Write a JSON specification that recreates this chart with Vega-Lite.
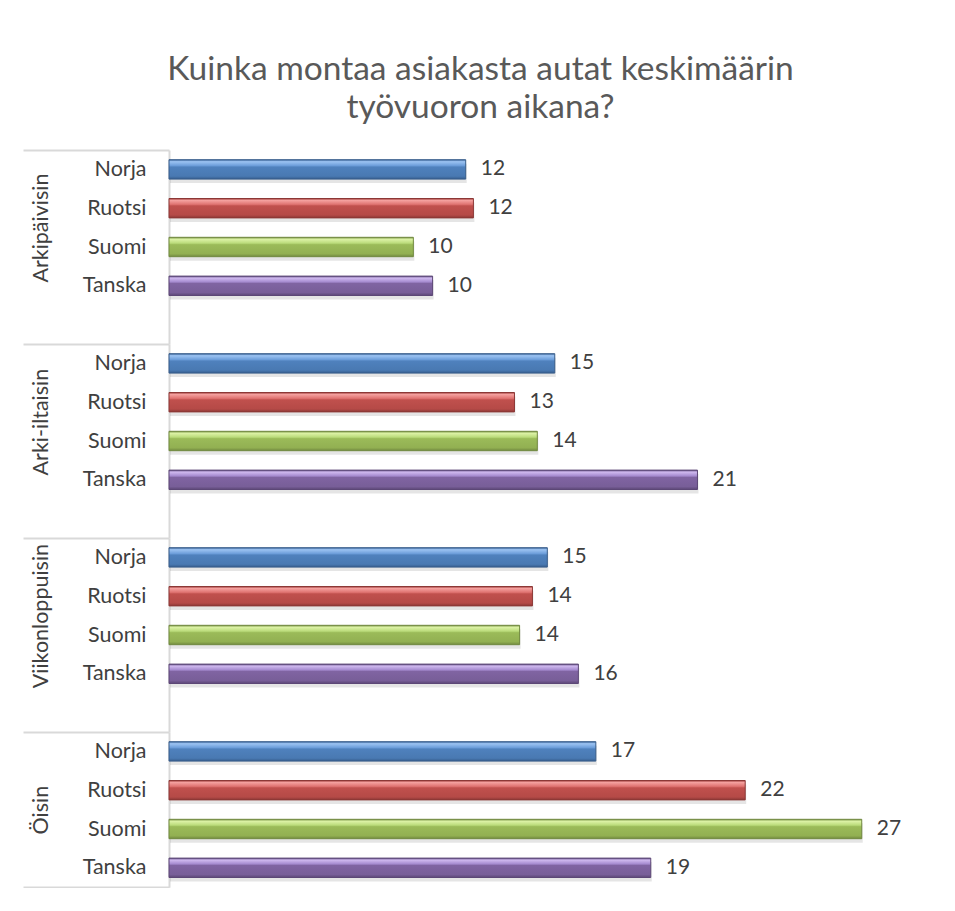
{
  "$schema": "https://vega.github.io/schema/vega-lite/v6.json",
  "padding": {"left": 22, "top": 52, "right": 0, "bottom": 0},
  "background": "white",
  "title": {
    "text": ["Kuinka montaa asiakasta autat keskimäärin", "työvuoron aikana?"],
    "font": "Lato", "fontSize": 33.5, "fontWeight": "normal", "color": "#595959",
    "lineHeight": 38, "anchor": "middle", "offset": 14
  },
  "data": {
    "values": [
      {"aika": "Arkipäivisin", "maa": "Norja", "arvo": 11.56},
      {"aika": "Arkipäivisin", "maa": "Ruotsi", "arvo": 11.86},
      {"aika": "Arkipäivisin", "maa": "Suomi", "arvo": 9.52},
      {"aika": "Arkipäivisin", "maa": "Tanska", "arvo": 10.27},
      {"aika": "Arki-iltaisin", "maa": "Norja", "arvo": 15.03},
      {"aika": "Arki-iltaisin", "maa": "Ruotsi", "arvo": 13.46},
      {"aika": "Arki-iltaisin", "maa": "Suomi", "arvo": 14.35},
      {"aika": "Arki-iltaisin", "maa": "Tanska", "arvo": 20.59},
      {"aika": "Viikonloppuisin", "maa": "Norja", "arvo": 14.74},
      {"aika": "Viikonloppuisin", "maa": "Ruotsi", "arvo": 14.16},
      {"aika": "Viikonloppuisin", "maa": "Suomi", "arvo": 13.66},
      {"aika": "Viikonloppuisin", "maa": "Tanska", "arvo": 15.95},
      {"aika": "Öisin", "maa": "Norja", "arvo": 16.63},
      {"aika": "Öisin", "maa": "Ruotsi", "arvo": 22.45},
      {"aika": "Öisin", "maa": "Suomi", "arvo": 26.99},
      {"aika": "Öisin", "maa": "Tanska", "arvo": 18.77}
    ]
  },
  "spacing": 0,
  "bounds": "flush",
  "vconcat": [
    {
      "width": 770, "height": 194,
      "transform": [{"filter": "datum.aika === 'Arkipäivisin'"}],
      "encoding": {
        "y": {"field": "maa", "type": "nominal", "sort": ["Norja", "Ruotsi", "Suomi", "Tanska"],
          "scale": {"paddingInner": 0, "paddingOuter": 0.5, "align": 0},
          "axis": {"title": "Arkipäivisin", "titleX": -128, "titleY": 77.6,
            "tickOpacity": {"condition": {"test": "datum.extra", "value": 1}, "value": 0}}},
        "x": {"field": "arvo", "type": "quantitative", "scale": {"domain": [0, 30], "nice": false}, "axis": null}
      },
      "layer": [
        {"mark": {"type": "bar", "height": {"band": 0.5}, "yOffset": 4, "xOffset": 1, "fill": "#000000", "opacity": 0.1}},
        {"mark": {"type": "bar", "height": {"band": 0.5}, "strokeWidth": 1},
          "encoding": {
            "fill": {"condition": [
              {"test": "datum.maa === 'Norja'", "value": {"gradient": "linear", "x1": 0, "y1": 0, "x2": 0, "y2": 1, "stops": [{"offset": 0, "color": "#3c679b"}, {"offset": 0.1, "color": "#9cc3f2"}, {"offset": 0.3, "color": "#6e9fdb"}, {"offset": 0.38, "color": "#4f81bd"}, {"offset": 0.85, "color": "#4979b2"}, {"offset": 1, "color": "#375e8e"}]}},
              {"test": "datum.maa === 'Ruotsi'", "value": {"gradient": "linear", "x1": 0, "y1": 0, "x2": 0, "y2": 1, "stops": [{"offset": 0, "color": "#9c3b39"}, {"offset": 0.1, "color": "#f4a09e"}, {"offset": 0.3, "color": "#e07472"}, {"offset": 0.38, "color": "#c0504d"}, {"offset": 0.85, "color": "#b54a47"}, {"offset": 1, "color": "#8c3836"}]}},
              {"test": "datum.maa === 'Suomi'", "value": {"gradient": "linear", "x1": 0, "y1": 0, "x2": 0, "y2": 1, "stops": [{"offset": 0, "color": "#769141"}, {"offset": 0.1, "color": "#dcf2a6"}, {"offset": 0.3, "color": "#bbdc7b"}, {"offset": 0.38, "color": "#9bbb59"}, {"offset": 0.85, "color": "#92b052"}, {"offset": 1, "color": "#71893f"}]}}],
              "value": {"gradient": "linear", "x1": 0, "y1": 0, "x2": 0, "y2": 1, "stops": [{"offset": 0, "color": "#5f4a7e"}, {"offset": 0.1, "color": "#cfb9ef"}, {"offset": 0.3, "color": "#a68bd0"}, {"offset": 0.38, "color": "#8064a2"}, {"offset": 0.85, "color": "#785e98"}, {"offset": 1, "color": "#5c4776"}]}},
            "stroke": {"condition": [
              {"test": "datum.maa === 'Norja'", "value": "#385d8a"},
              {"test": "datum.maa === 'Ruotsi'", "value": "#8c3836"},
              {"test": "datum.maa === 'Suomi'", "value": "#71893f"}], "value": "#5c4776"}
          }},
        {"mark": {"type": "text", "align": "left", "baseline": "middle", "dx": 15, "font": "Lato", "fontSize": 21, "fill": "#404040"},
          "encoding": {"text": {"field": "arvo", "type": "quantitative", "format": ".0f"}}}
      ]
    },
    {
      "width": 770, "height": 194,
      "transform": [{"filter": "datum.aika === 'Arki-iltaisin'"}],
      "encoding": {
        "y": {"field": "maa", "type": "nominal", "sort": ["Norja", "Ruotsi", "Suomi", "Tanska"],
          "scale": {"paddingInner": 0, "paddingOuter": 0.5, "align": 0},
          "axis": {"title": "Arki-iltaisin", "titleX": -128, "titleY": 77.6,
            "tickOpacity": {"condition": {"test": "datum.extra", "value": 1}, "value": 0}}},
        "x": {"field": "arvo", "type": "quantitative", "scale": {"domain": [0, 30], "nice": false}, "axis": null}
      },
      "layer": [
        {"mark": {"type": "bar", "height": {"band": 0.5}, "yOffset": 4, "xOffset": 1, "fill": "#000000", "opacity": 0.1}},
        {"mark": {"type": "bar", "height": {"band": 0.5}, "strokeWidth": 1},
          "encoding": {
            "fill": {"condition": [
              {"test": "datum.maa === 'Norja'", "value": {"gradient": "linear", "x1": 0, "y1": 0, "x2": 0, "y2": 1, "stops": [{"offset": 0, "color": "#3c679b"}, {"offset": 0.1, "color": "#9cc3f2"}, {"offset": 0.3, "color": "#6e9fdb"}, {"offset": 0.38, "color": "#4f81bd"}, {"offset": 0.85, "color": "#4979b2"}, {"offset": 1, "color": "#375e8e"}]}},
              {"test": "datum.maa === 'Ruotsi'", "value": {"gradient": "linear", "x1": 0, "y1": 0, "x2": 0, "y2": 1, "stops": [{"offset": 0, "color": "#9c3b39"}, {"offset": 0.1, "color": "#f4a09e"}, {"offset": 0.3, "color": "#e07472"}, {"offset": 0.38, "color": "#c0504d"}, {"offset": 0.85, "color": "#b54a47"}, {"offset": 1, "color": "#8c3836"}]}},
              {"test": "datum.maa === 'Suomi'", "value": {"gradient": "linear", "x1": 0, "y1": 0, "x2": 0, "y2": 1, "stops": [{"offset": 0, "color": "#769141"}, {"offset": 0.1, "color": "#dcf2a6"}, {"offset": 0.3, "color": "#bbdc7b"}, {"offset": 0.38, "color": "#9bbb59"}, {"offset": 0.85, "color": "#92b052"}, {"offset": 1, "color": "#71893f"}]}}],
              "value": {"gradient": "linear", "x1": 0, "y1": 0, "x2": 0, "y2": 1, "stops": [{"offset": 0, "color": "#5f4a7e"}, {"offset": 0.1, "color": "#cfb9ef"}, {"offset": 0.3, "color": "#a68bd0"}, {"offset": 0.38, "color": "#8064a2"}, {"offset": 0.85, "color": "#785e98"}, {"offset": 1, "color": "#5c4776"}]}},
            "stroke": {"condition": [
              {"test": "datum.maa === 'Norja'", "value": "#385d8a"},
              {"test": "datum.maa === 'Ruotsi'", "value": "#8c3836"},
              {"test": "datum.maa === 'Suomi'", "value": "#71893f"}], "value": "#5c4776"}
          }},
        {"mark": {"type": "text", "align": "left", "baseline": "middle", "dx": 15, "font": "Lato", "fontSize": 21, "fill": "#404040"},
          "encoding": {"text": {"field": "arvo", "type": "quantitative", "format": ".0f"}}}
      ]
    },
    {
      "width": 770, "height": 194,
      "transform": [{"filter": "datum.aika === 'Viikonloppuisin'"}],
      "encoding": {
        "y": {"field": "maa", "type": "nominal", "sort": ["Norja", "Ruotsi", "Suomi", "Tanska"],
          "scale": {"paddingInner": 0, "paddingOuter": 0.5, "align": 0},
          "axis": {"title": "Viikonloppuisin", "titleX": -128, "titleY": 77.6,
            "tickOpacity": {"condition": {"test": "datum.extra", "value": 1}, "value": 0}}},
        "x": {"field": "arvo", "type": "quantitative", "scale": {"domain": [0, 30], "nice": false}, "axis": null}
      },
      "layer": [
        {"mark": {"type": "bar", "height": {"band": 0.5}, "yOffset": 4, "xOffset": 1, "fill": "#000000", "opacity": 0.1}},
        {"mark": {"type": "bar", "height": {"band": 0.5}, "strokeWidth": 1},
          "encoding": {
            "fill": {"condition": [
              {"test": "datum.maa === 'Norja'", "value": {"gradient": "linear", "x1": 0, "y1": 0, "x2": 0, "y2": 1, "stops": [{"offset": 0, "color": "#3c679b"}, {"offset": 0.1, "color": "#9cc3f2"}, {"offset": 0.3, "color": "#6e9fdb"}, {"offset": 0.38, "color": "#4f81bd"}, {"offset": 0.85, "color": "#4979b2"}, {"offset": 1, "color": "#375e8e"}]}},
              {"test": "datum.maa === 'Ruotsi'", "value": {"gradient": "linear", "x1": 0, "y1": 0, "x2": 0, "y2": 1, "stops": [{"offset": 0, "color": "#9c3b39"}, {"offset": 0.1, "color": "#f4a09e"}, {"offset": 0.3, "color": "#e07472"}, {"offset": 0.38, "color": "#c0504d"}, {"offset": 0.85, "color": "#b54a47"}, {"offset": 1, "color": "#8c3836"}]}},
              {"test": "datum.maa === 'Suomi'", "value": {"gradient": "linear", "x1": 0, "y1": 0, "x2": 0, "y2": 1, "stops": [{"offset": 0, "color": "#769141"}, {"offset": 0.1, "color": "#dcf2a6"}, {"offset": 0.3, "color": "#bbdc7b"}, {"offset": 0.38, "color": "#9bbb59"}, {"offset": 0.85, "color": "#92b052"}, {"offset": 1, "color": "#71893f"}]}}],
              "value": {"gradient": "linear", "x1": 0, "y1": 0, "x2": 0, "y2": 1, "stops": [{"offset": 0, "color": "#5f4a7e"}, {"offset": 0.1, "color": "#cfb9ef"}, {"offset": 0.3, "color": "#a68bd0"}, {"offset": 0.38, "color": "#8064a2"}, {"offset": 0.85, "color": "#785e98"}, {"offset": 1, "color": "#5c4776"}]}},
            "stroke": {"condition": [
              {"test": "datum.maa === 'Norja'", "value": "#385d8a"},
              {"test": "datum.maa === 'Ruotsi'", "value": "#8c3836"},
              {"test": "datum.maa === 'Suomi'", "value": "#71893f"}], "value": "#5c4776"}
          }},
        {"mark": {"type": "text", "align": "left", "baseline": "middle", "dx": 15, "font": "Lato", "fontSize": 21, "fill": "#404040"},
          "encoding": {"text": {"field": "arvo", "type": "quantitative", "format": ".0f"}}}
      ]
    },
    {
      "width": 770, "height": 155.2,
      "transform": [{"filter": "datum.aika === 'Öisin'"}],
      "encoding": {
        "y": {"field": "maa", "type": "nominal", "sort": ["Norja", "Ruotsi", "Suomi", "Tanska"],
          "scale": {"paddingInner": 0, "paddingOuter": 0, "align": 0},
          "axis": {"title": "Öisin", "titleX": -128, "titleY": 77.6,
            "tickOpacity": {"condition": {"test": "datum.extra || datum.value === 'Tanska'", "value": 1}, "value": 0}}},
        "x": {"field": "arvo", "type": "quantitative", "scale": {"domain": [0, 30], "nice": false}, "axis": null}
      },
      "layer": [
        {"mark": {"type": "bar", "height": {"band": 0.5}, "yOffset": 4, "xOffset": 1, "fill": "#000000", "opacity": 0.1}},
        {"mark": {"type": "bar", "height": {"band": 0.5}, "strokeWidth": 1},
          "encoding": {
            "fill": {"condition": [
              {"test": "datum.maa === 'Norja'", "value": {"gradient": "linear", "x1": 0, "y1": 0, "x2": 0, "y2": 1, "stops": [{"offset": 0, "color": "#3c679b"}, {"offset": 0.1, "color": "#9cc3f2"}, {"offset": 0.3, "color": "#6e9fdb"}, {"offset": 0.38, "color": "#4f81bd"}, {"offset": 0.85, "color": "#4979b2"}, {"offset": 1, "color": "#375e8e"}]}},
              {"test": "datum.maa === 'Ruotsi'", "value": {"gradient": "linear", "x1": 0, "y1": 0, "x2": 0, "y2": 1, "stops": [{"offset": 0, "color": "#9c3b39"}, {"offset": 0.1, "color": "#f4a09e"}, {"offset": 0.3, "color": "#e07472"}, {"offset": 0.38, "color": "#c0504d"}, {"offset": 0.85, "color": "#b54a47"}, {"offset": 1, "color": "#8c3836"}]}},
              {"test": "datum.maa === 'Suomi'", "value": {"gradient": "linear", "x1": 0, "y1": 0, "x2": 0, "y2": 1, "stops": [{"offset": 0, "color": "#769141"}, {"offset": 0.1, "color": "#dcf2a6"}, {"offset": 0.3, "color": "#bbdc7b"}, {"offset": 0.38, "color": "#9bbb59"}, {"offset": 0.85, "color": "#92b052"}, {"offset": 1, "color": "#71893f"}]}}],
              "value": {"gradient": "linear", "x1": 0, "y1": 0, "x2": 0, "y2": 1, "stops": [{"offset": 0, "color": "#5f4a7e"}, {"offset": 0.1, "color": "#cfb9ef"}, {"offset": 0.3, "color": "#a68bd0"}, {"offset": 0.38, "color": "#8064a2"}, {"offset": 0.85, "color": "#785e98"}, {"offset": 1, "color": "#5c4776"}]}},
            "stroke": {"condition": [
              {"test": "datum.maa === 'Norja'", "value": "#385d8a"},
              {"test": "datum.maa === 'Ruotsi'", "value": "#8c3836"},
              {"test": "datum.maa === 'Suomi'", "value": "#71893f"}], "value": "#5c4776"}
          }},
        {"mark": {"type": "text", "align": "left", "baseline": "middle", "dx": 15, "font": "Lato", "fontSize": 21, "fill": "#404040"},
          "encoding": {"text": {"field": "arvo", "type": "quantitative", "format": ".0f"}}}
      ]
    }
  ],
  "config": {
    "view": {"stroke": null},
    "axisY": {
      "domainColor": "#d9d9d9", "domainWidth": 2,
      "tickBand": "extent", "tickExtra": true,
      "tickSize": 146, "tickWidth": 2, "tickColor": "#d9d9d9",
      "labelPadding": -123,
      "labelFont": "Lato", "labelFontSize": 21.5, "labelColor": "#404040",
      "titleFont": "Lato", "titleFontSize": 21.5, "titleFontWeight": "normal", "titleColor": "#404040",
      "titleAngle": -90, "titleAlign": "center", "titleBaseline": "middle"
    }
  }
}
